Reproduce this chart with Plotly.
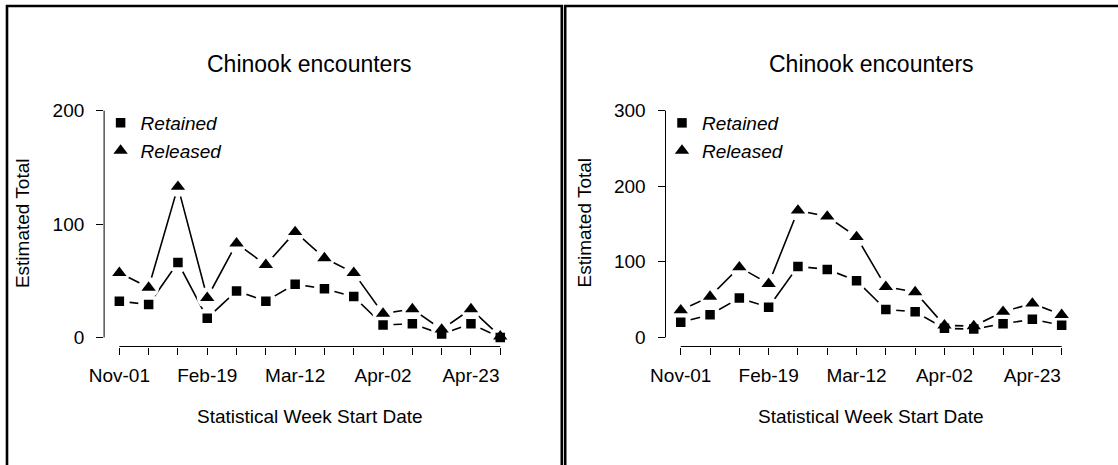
import plotly.graph_objects as go

# ---- data ----------------------------------------------------------------
week_index = list(range(14))
week_labels = ["Nov-01", "", "", "Feb-19", "", "", "Mar-12", "", "",
               "Apr-02", "", "", "Apr-23", ""]

left_retained = [32, 29, 66, 17, 41, 32, 47, 43, 36, 11, 12, 3, 12, 0]
left_released = [57, 44, 133, 35, 83, 64, 93, 70, 57, 21, 25, 7, 25, 1]
left_yticks = [0, 100, 200]

right_retained = [20, 30, 52, 40, 94, 90, 75, 37, 34, 12, 11, 18, 24, 16]
right_released = [36, 54, 93, 71, 168, 160, 133, 67, 60, 16, 15, 34, 45, 30]
right_yticks = [0, 100, 200, 300]

title_text = "Chinook encounters"
xlab_text = "Statistical Week Start Date"
ylab_text = "Estimated Total"

# ---- layout helpers ------------------------------------------------------
W, H = 1118, 465
FONT = "Liberation Sans, Arial, Helvetica, sans-serif"


def px_x(x):
    return x / W


def px_y(y):
    return 1 - y / H


fig = go.Figure()

panels = [
    dict(ax="", retained=left_retained, released=left_released,
         yticks=left_yticks, x0=104.1, x1=515.5, legend="legend"),
    dict(ax="2", retained=right_retained, released=right_released,
         yticks=right_yticks, x0=665.5, x1=1076.9, legend="legend2"),
]

PLOT_TOP, PLOT_BOT = 101.6, 346.5
LINE_W = 1.6
HALO = 21

# lines first, then white halos (gaps as in type="b"), then symbols
for p in panels:
    xa, ya = "x" + p["ax"], "y" + p["ax"]
    for vals in (p["retained"], p["released"]):
        fig.add_trace(go.Scatter(x=week_index, y=vals, xaxis=xa, yaxis=ya,
                                 mode="lines", showlegend=False,
                                 line=dict(color="black", width=LINE_W),
                                 hoverinfo="skip"))
for p in panels:
    xa, ya = "x" + p["ax"], "y" + p["ax"]
    for vals in (p["retained"], p["released"]):
        fig.add_trace(go.Scatter(x=week_index, y=vals, xaxis=xa, yaxis=ya,
                                 mode="markers", showlegend=False,
                                 marker=dict(color="white", size=HALO,
                                             symbol="circle"),
                                 hoverinfo="skip"))
for p in panels:
    xa, ya = "x" + p["ax"], "y" + p["ax"]
    fig.add_trace(go.Scatter(x=week_index, y=p["retained"], xaxis=xa, yaxis=ya,
                             mode="markers", name="<i>Retained</i>",
                             legend=p["legend"],
                             marker=dict(color="black", size=9.5,
                                         symbol="square")))
    fig.add_trace(go.Scatter(x=week_index, y=p["released"], xaxis=xa, yaxis=ya,
                             mode="markers", name="<i>Released</i>",
                             legend=p["legend"],
                             marker=dict(color="black", size=12.5,
                                         symbol="triangle-up")))

layout = dict(
    width=W, height=H, autosize=False,
    margin=dict(l=0, r=0, t=0, b=0, autoexpand=False),
    paper_bgcolor="white", plot_bgcolor="white",
    font=dict(family=FONT, size=19, color="black"),
    showlegend=True,
)

shapes = []
annotations = []
for p in panels:
    sfx = p["ax"]
    yt = p["yticks"]
    pad = (yt[-1] - yt[0]) * 0.04
    layout["xaxis" + sfx] = dict(
        domain=[px_x(p["x0"]), px_x(p["x1"])], anchor="y" + sfx,
        range=[-0.52, 13.52], tickvals=week_index, ticktext=week_labels,
        ticks="outside", ticklen=7, tickwidth=1, tickcolor="black",
        showline=False, showgrid=False, zeroline=False, automargin=False,
        ticklabelstandoff=5, tickfont=dict(size=19, family=FONT),
    )
    layout["yaxis" + sfx] = dict(
        domain=[px_y(PLOT_BOT), px_y(PLOT_TOP)], anchor="x" + sfx,
        range=[yt[0] - pad, yt[-1] + pad], tickvals=yt,
        ticks="outside", ticklen=7, tickwidth=1, tickcolor="black",
        showline=False, showgrid=False, zeroline=False, automargin=False,
        ticklabelstandoff=8, tickfont=dict(size=19, family=FONT),
    )
    # axis lines spanning first to last tick
    shapes.append(dict(type="line", xref="x" + sfx + " domain", yref="y" + sfx,
                       x0=0, x1=0, y0=yt[0], y1=yt[-1],
                       line=dict(color="black", width=1)))
    shapes.append(dict(type="line", xref="x" + sfx, yref="y" + sfx + " domain",
                       x0=week_index[0], x1=week_index[-1], y0=0, y1=0,
                       line=dict(color="black", width=1)))

    cx = (p["x0"] + p["x1"]) / 2
    annotations.append(dict(text=title_text, x=px_x(cx), y=px_y(64),
                            xref="paper", yref="paper", showarrow=False,
                            xanchor="center", yanchor="middle",
                            font=dict(size=23, family=FONT, color="black")))
    annotations.append(dict(text=xlab_text, x=px_x(cx), y=px_y(416),
                            xref="paper", yref="paper", showarrow=False,
                            xanchor="center", yanchor="middle",
                            font=dict(size=19, family=FONT, color="black")))
    annotations.append(dict(text=ylab_text, x=px_x(p["x0"] - 81), y=px_y(223),
                            xref="paper", yref="paper", showarrow=False,
                            textangle=-90, xanchor="center", yanchor="middle",
                            font=dict(size=19, family=FONT, color="black")))

    layout[p["legend"]] = dict(
        x=px_x(p["x0"] - 3.5), y=px_y(104), xanchor="left", yanchor="top",
        bgcolor="rgba(0,0,0,0)", borderwidth=0,
        font=dict(size=19, family=FONT, color="black"),
        itemwidth=30, tracegroupgap=0,
    )

# panel frames
shapes.append(dict(type="rect", xref="paper", yref="paper",
                   x0=px_x(7), x1=px_x(561.8), y0=px_y(6), y1=px_y(500),
                   line=dict(color="black", width=2.6)))
shapes.append(dict(type="rect", xref="paper", yref="paper",
                   x0=px_x(565.2), x1=px_x(1140), y0=px_y(6), y1=px_y(500),
                   line=dict(color="black", width=2.6)))

layout["shapes"] = shapes
layout["annotations"] = annotations
fig.update_layout(**layout)

fig.write_html("out.html")
